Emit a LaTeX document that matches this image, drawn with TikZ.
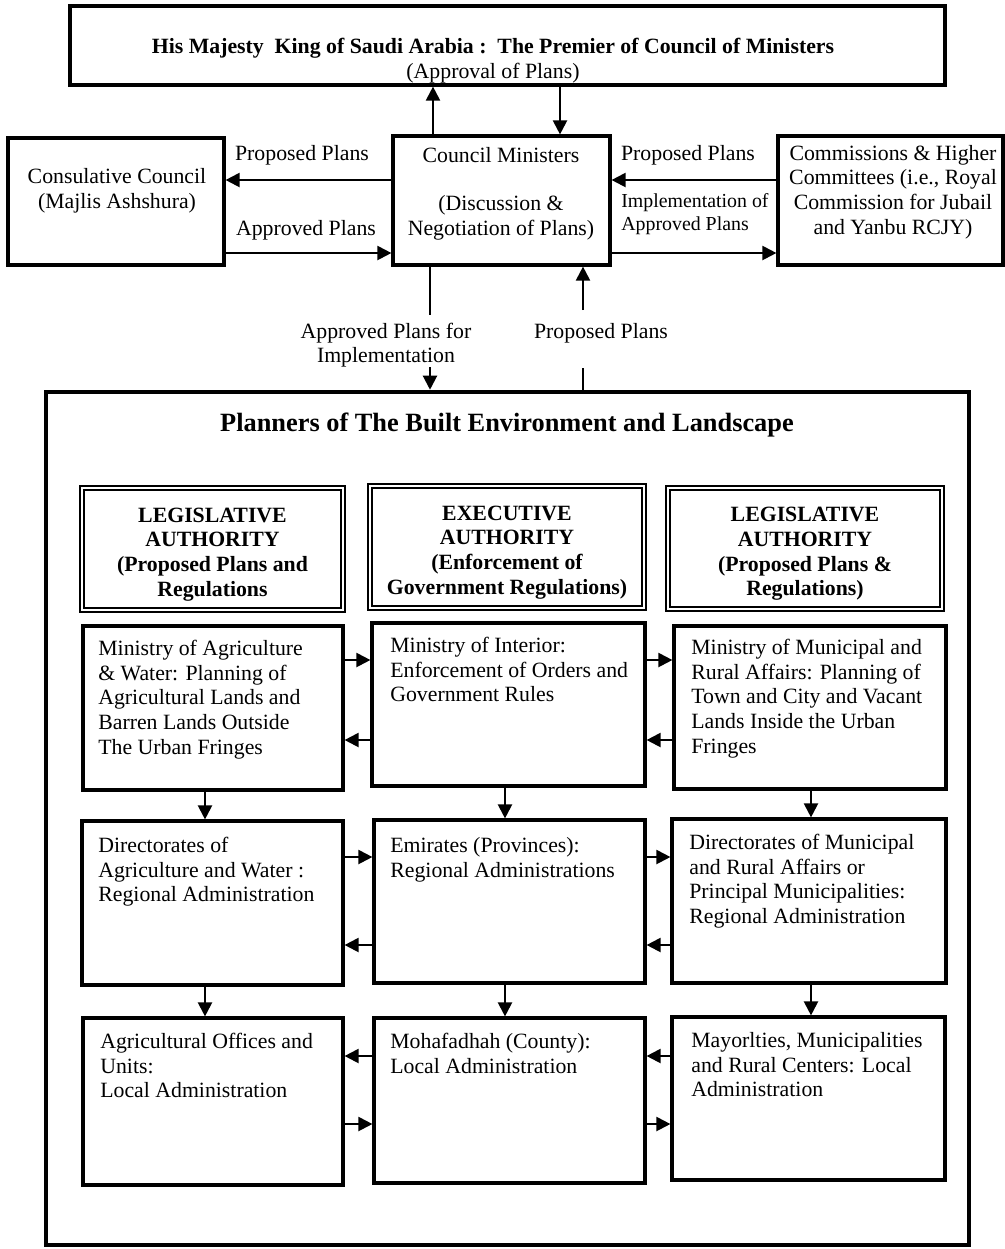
\documentclass[tikz,border=0pt]{standalone}
\usepackage{fontspec}
\setmainfont{Liberation Serif}
\usetikzlibrary{fit,arrows.meta}
\begin{document}
\begin{tikzpicture}[x=0.02cm,y=-0.02cm,
 box/.style={draw, line width=1.8pt, inner sep=0pt},
 hbox/.style={draw, double, double distance=1.3pt, line width=1.1pt, inner sep=0pt},
 txt/.style={inner sep=0pt, font=\fontsize{12.4}{14}\selectfont, align=left, anchor=north west},
 ctxt/.style={inner sep=0pt, font=\fontsize{12.4}{14}\selectfont, align=center},
 btxt/.style={inner sep=0pt, font=\bfseries\fontsize{12.4}{14.1}\selectfont, align=center},
 arr/.style={line width=1.2pt, -{Triangle[length=8pt,width=8pt]}},
 ln/.style={line width=1.2pt}]
\useasboundingbox[fill=white] (0,0) rectangle (1005,1249);

% top level boxes
\node[box, fit={(70,6) (945,85)}] (top) {};
\node[btxt] (toptxt) at (493,48) {His Majesty\ \ King of Saudi Arabia :\ \ The Premier of Council of Ministers};
\node[ctxt] (toptxt2) at (493,73) {(Approval of Plans)};

\node[box, fit={(8,138) (224,265)}] (cons) {};
\node[ctxt] (constxt) at (117,191) {Consulative Council\\(Majlis Ashshura)};

\node[box, fit={(393,136) (610,265)}] (cm) {};
\node[ctxt] (cmtxt) at (501,155) {Council Ministers};
\node[ctxt] (cmtxt2) at (501,218) {(Discussion \&\\Negotiation of Plans)};

\node[box, fit={(778,136) (1003,265)}] (comm) {};
\node[ctxt] (commtxt) at (893,192) {Commissions \& Higher\\Committees (i.e., Royal\\Commission for Jubail\\and Yanbu RCJY)};

% connectors at top
\coordinate (u1) at (433,0);
\coordinate (d1) at (560,0);
\draw[arr] (cm.north -| u1) -- (top.south -| u1);
\draw[arr] (top.south -| d1) -- (cm.north -| d1);

\coordinate (ya) at (0,180);
\coordinate (yb) at (0,253);
\draw[arr] (cm.west |- ya) -- (cons.east |- ya);
\draw[arr] (cons.east |- yb) -- (cm.west |- yb);
\draw[arr] (comm.west |- ya) -- (cm.east |- ya);
\draw[arr] (cm.east |- yb) -- (comm.west |- yb);

\node[ctxt] (l1) at (302,155) {Proposed Plans};
\node[ctxt] (l2) at (306,230) {Approved Plans};
\node[ctxt] (l3) at (688,155) {Proposed Plans};
\node[inner sep=0pt, font=\fontsize{11.3}{12.8}\selectfont, align=left, anchor=west] (l4) at (621,214) {Implementation of\\Approved Plans};

% big box
\node[draw, line width=2.6pt, inner sep=0pt, fit={(46,392) (969,1245)}] (big) {};
\node[inner sep=0pt, font=\bfseries\fontsize{15}{17}\selectfont] (title) at (507,425) {Planners of The Built Environment and Landscape};

\coordinate (q1) at (430,315);
\coordinate (q2) at (430,367);
\coordinate (p1) at (583,310);
\coordinate (p2) at (583,368);
\draw[ln] (cm.south -| q1) -- (q1);
\draw[arr] (q2) -- (big.north -| q2);
\draw[arr] (p1) -- (cm.south -| p1);
\draw[ln] (p2) -- (big.north -| p2);
\node[ctxt] (l5) at (386,345) {Approved Plans for\\Implementation};
\node[ctxt] (l6) at (601,333) {Proposed Plans};

% header boxes
\node[hbox, fit={(82,488) (343,610)}] (ha) {};
\node[hbox, fit={(370,486) (644,608)}] (hb) {};
\node[hbox, fit={(668,488) (942,609)}] (hc) {};
\node[btxt] at ([yshift=-5.5*0.02cm]ha.center) {LEGISLATIVE\\AUTHORITY\\(Proposed Plans and\\Regulations};
\node[btxt] at ([yshift=-5.5*0.02cm]hb.center) {EXECUTIVE\\AUTHORITY\\(Enforcement of\\Government Regulations)};
\node[btxt] at ([yshift=-5.5*0.02cm]hc.center) {LEGISLATIVE\\AUTHORITY\\(Proposed Plans \&\\Regulations)};

% row boxes
\node[box, fit={(83,626) (343,790)}] (a1) {};
\node[box, fit={(372,623) (645,786)}] (b1) {};
\node[box, fit={(674,626) (946,789)}] (c1) {};
\node[box, fit={(82,821) (343,985)}] (a2) {};
\node[box, fit={(374,820) (645,983)}] (b2) {};
\node[box, fit={(672,819) (946,983)}] (c2) {};
\node[box, fit={(83,1018) (343,1185)}] (a3) {};
\node[box, fit={(374,1018) (645,1183)}] (b3) {};
\node[box, fit={(672,1017) (945,1180)}] (c3) {};

\node[txt] at (98,640) {Ministry of Agriculture\\\& Water: Planning of\\Agricultural Lands and\\Barren Lands Outside\\The Urban Fringes};
\node[txt] at (390,637) {Ministry of Interior:\\Enforcement of Orders and\\Government Rules};
\node[txt] at (691,639) {Ministry of Municipal and\\Rural Affairs: Planning of\\Town and City and Vacant\\Lands Inside the Urban\\Fringes};
\node[txt] at (98,837) {Directorates of\\Agriculture and Water :\\Regional Administration};
\node[txt] at (390,837) {Emirates (Provinces):\\Regional Administrations};
\node[txt] at (689,834) {Directorates of Municipal\\and Rural Affairs or\\Principal Municipalities:\\Regional Administration};
\node[txt] at (100,1033) {Agricultural Offices and\\Units:\\Local Administration};
\node[txt] at (390,1033) {Mohafadhah (County):\\Local Administration};
\node[txt] at (691,1032) {Mayorlties, Municipalities\\and Rural Centers: Local\\Administration};

% horizontal connectors
\coordinate (r1a) at (0,660);
\coordinate (r1b) at (0,740);
\coordinate (r2a) at (0,857);
\coordinate (r2b) at (0,945);
\coordinate (r3a) at (0,1056);
\coordinate (r3b) at (0,1124);
\draw[arr] (a1.east |- r1a) -- (b1.west |- r1a);
\draw[arr] (b1.east |- r1a) -- (c1.west |- r1a);
\draw[arr] (b1.west |- r1b) -- (a1.east |- r1b);
\draw[arr] (c1.west |- r1b) -- (b1.east |- r1b);
\draw[arr] (a2.east |- r2a) -- (b2.west |- r2a);
\draw[arr] (b2.east |- r2a) -- (c2.west |- r2a);
\draw[arr] (b2.west |- r2b) -- (a2.east |- r2b);
\draw[arr] (c2.west |- r2b) -- (b2.east |- r2b);
\draw[arr] (b3.west |- r3a) -- (a3.east |- r3a);
\draw[arr] (c3.west |- r3a) -- (b3.east |- r3a);
\draw[arr] (a3.east |- r3b) -- (b3.west |- r3b);
\draw[arr] (b3.east |- r3b) -- (c3.west |- r3b);

% vertical connectors
\coordinate (va) at (205,0);
\coordinate (vb) at (505,0);
\coordinate (vc) at (811,0);
\draw[arr] (a1.south -| va) -- (a2.north -| va);
\draw[arr] (b1.south -| vb) -- (b2.north -| vb);
\draw[arr] (c1.south -| vc) -- (c2.north -| vc);
\draw[arr] (a2.south -| va) -- (a3.north -| va);
\draw[arr] (b2.south -| vb) -- (b3.north -| vb);
\draw[arr] (c2.south -| vc) -- (c3.north -| vc);
\end{tikzpicture}
\end{document}
